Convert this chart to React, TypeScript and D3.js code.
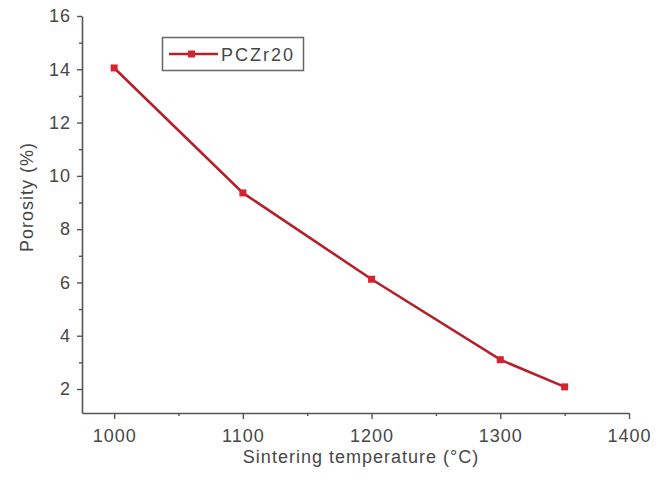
import React, {useEffect, useRef} from "react";
import * as d3 from "d3";

const temperatures: number[] = [1000, 1100, 1200, 1300, 1350];
const porosity: number[] = [14.05, 9.36, 6.12, 3.1, 2.08];
const seriesName: string = "PCZr20";
const xTicks: number[] = [1000, 1100, 1200, 1300, 1400];
const xMinorTicks: number[] = [1050, 1150, 1250, 1350];
const yTicks: number[] = [2, 4, 6, 8, 10, 12, 14, 16];
const yMinorTicks: number[] = [3, 5, 7, 9, 11, 13, 15];

const LineColor: string = "#b4212b";
const MarkerColor: string = "#d8232e";
const AxisColor: string = "#555555";
const TextColor: string = "#474747";
const FontFamily: string = "'Liberation Sans', Arial, sans-serif";

export default function App(): React.ReactElement {
  const svgRef = useRef<SVGSVGElement>(null);

  const width = 666;
  const height = 480;
  const plot = {left: 82, right: 629, top: 16, bottom: 413};

  useEffect(() => {
    if (svgRef.current === null) return;
    const svg = d3.select(svgRef.current);
    svg.selectAll("*").remove();

    const x = d3.scaleLinear().domain([975, 1400]).range([plot.left, plot.right]);
    const y = d3.scaleLinear().domain([1.1, 16]).range([plot.bottom, plot.top]);

    const data = temperatures.map((t, i) => ({t: t, p: porosity[i]}));

    // axes
    const xAxis = svg.append("g").attr("transform", `translate(0,${plot.bottom})`);
    xAxis.call(d3.axisBottom(x).tickValues(xTicks).tickSize(6).tickSizeOuter(0).tickPadding(10).tickFormat(d3.format("d")));
    const xMinor = svg.append("g").attr("transform", `translate(0,${plot.bottom})`);
    xMinor.call(d3.axisBottom(x).tickValues(xMinorTicks).tickSize(3).tickFormat(() => ""));
    xMinor.select(".domain").remove();

    const yAxis = svg.append("g").attr("transform", `translate(${plot.left},0)`);
    yAxis.call(d3.axisLeft(y).tickValues(yTicks).tickSize(5).tickSizeOuter(0).tickPadding(6).tickFormat(d3.format("d")));
    const yMinor = svg.append("g").attr("transform", `translate(${plot.left},0)`);
    yMinor.call(d3.axisLeft(y).tickValues(yMinorTicks).tickSize(3).tickFormat(() => ""));
    yMinor.select(".domain").remove();

    // y domain line should reach the top tick at 16
    svg.selectAll(".domain").attr("stroke", AxisColor).attr("stroke-width", 1.6);
    svg.selectAll(".tick line").attr("stroke", AxisColor).attr("stroke-width", 1.4);
    svg.selectAll(".tick text")
      .attr("fill", TextColor)
      .style("font-family", FontFamily)
      .style("font-size", "18px")
      .style("letter-spacing", "1px");

    // axis titles
    svg.append("text")
      .attr("x", 361)
      .attr("y", 463)
      .attr("text-anchor", "middle")
      .attr("fill", TextColor)
      .style("font-family", FontFamily)
      .style("font-size", "18px")
      .style("letter-spacing", "1px")
      .text("Sintering temperature (°C)");

    svg.append("text")
      .attr("transform", `translate(33,197) rotate(-90)`)
      .attr("text-anchor", "middle")
      .attr("fill", TextColor)
      .style("font-family", FontFamily)
      .style("font-size", "18px")
      .style("letter-spacing", "1px")
      .text("Porosity (%)");

    // series line
    const line = d3.line<{t: number, p: number}>()
      .x((d) => x(d.t))
      .y((d) => y(d.p));

    svg.append("path")
      .datum(data)
      .attr("fill", "none")
      .attr("stroke", LineColor)
      .attr("stroke-width", 2.6)
      .attr("d", line);

    svg.selectAll(".marker")
      .data(data)
      .join("rect")
      .attr("class", "marker")
      .attr("x", (d) => x(d.t) - 3.5)
      .attr("y", (d) => y(d.p) - 3.5)
      .attr("width", 7)
      .attr("height", 7)
      .attr("fill", MarkerColor);

    // legend
    const legend = svg.append("g").attr("class", "legend");
    legend.append("rect")
      .attr("x", 162.5)
      .attr("y", 37.5)
      .attr("width", 141)
      .attr("height", 33)
      .attr("fill", "white")
      .attr("stroke", "#666666")
      .attr("stroke-width", 1.5);
    legend.append("line")
      .attr("x1", 169)
      .attr("x2", 218)
      .attr("y1", 54)
      .attr("y2", 54)
      .attr("stroke", LineColor)
      .attr("stroke-width", 2.6);
    legend.append("rect")
      .attr("x", 188)
      .attr("y", 50.5)
      .attr("width", 7)
      .attr("height", 7)
      .attr("fill", MarkerColor);
    legend.append("text")
      .attr("x", 221)
      .attr("y", 60.5)
      .attr("fill", TextColor)
      .style("font-family", FontFamily)
      .style("font-size", "18px")
      .style("letter-spacing", "2px")
      .text(seriesName);
  }, []);

  return (
    <svg ref={svgRef} width={width} height={height}
         style={{position: "absolute", left: 0, top: 0, background: "white"}}></svg>
  );
}
